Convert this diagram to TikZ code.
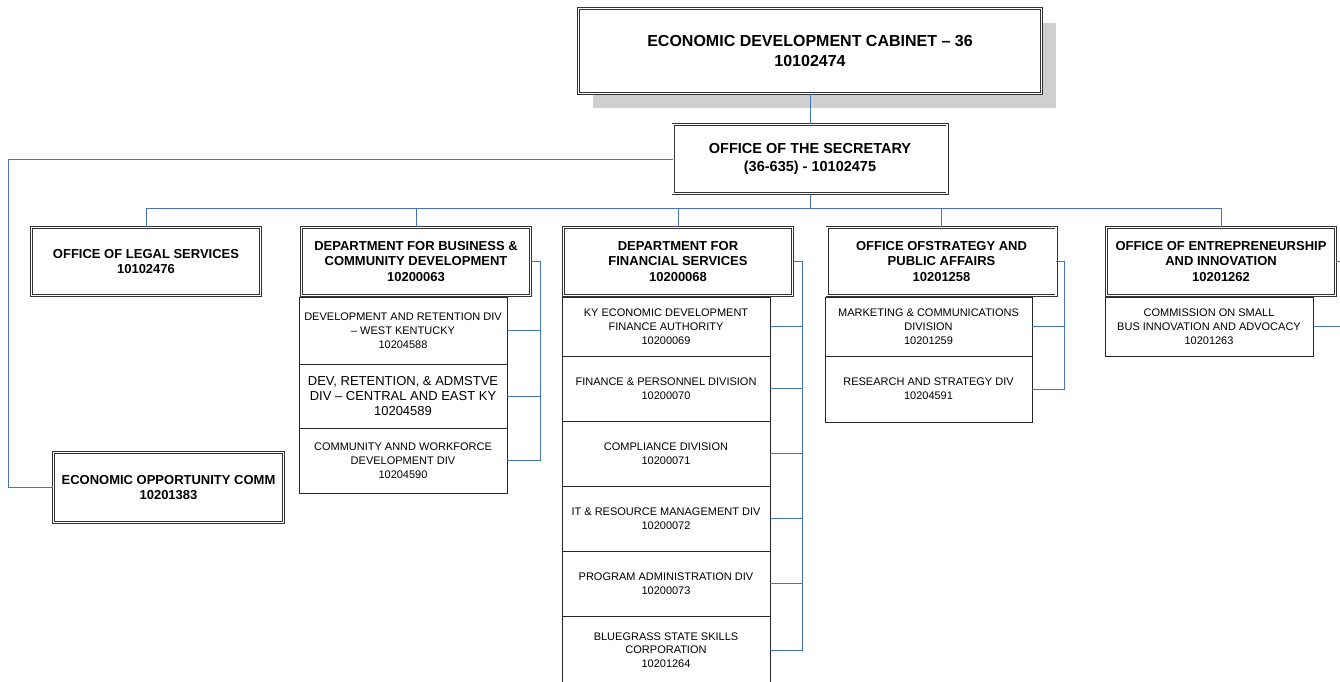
\documentclass[tikz,border=0pt]{standalone}
\usepackage{fontspec}
\setmainfont{Liberation Sans}
\usetikzlibrary{shadows}
\definecolor{linkblue}{RGB}{68,114,196}

\begin{document}
\begin{tikzpicture}[x=1pt,y=-1pt,
  unit/.style={draw=black!80, line width=0.8pt, double=white, double distance=1.4pt,
    fill=white, align=center, inner sep=0pt, minimum width=229pt, minimum height=68pt,
    font=\bfseries\fontsize{13}{15.5}\selectfont},
  sub/.style={draw=black!85, line width=0.7pt, fill=white, align=center, inner sep=0pt,
    minimum width=208pt, font=\fontsize{11}{13.8}\selectfont},
  link/.style={draw=linkblue, line width=0.8pt}]

\useasboundingbox (0,0) rectangle (1340,681);

% Cabinet
\node[unit, minimum width=463pt, minimum height=85pt, font=\bfseries\fontsize{16}{20}\selectfont,
  general shadow={fill=black!19, shadow xshift=14pt, shadow yshift=-14pt}]
  (cab) at (810,51) {ECONOMIC DEVELOPMENT CABINET -- 36\\10102474};

% Secretary
\node[unit, minimum width=274pt, minimum height=69pt, font=\bfseries\fontsize{14.5}{18}\selectfont]
  (sec) at (810,159) {OFFICE OF THE SECRETARY\\(36-635) - 10102475};

% Offices and departments
\node[unit] (legal) at (146,261.5) {OFFICE OF LEGAL SERVICES\\10102476};
\node[unit] (dbcd) at (416,261.5) {DEPARTMENT FOR BUSINESS \&\\COMMUNITY DEVELOPMENT\\10200063};
\node[unit] (dfs) at (678,261.5) {DEPARTMENT FOR\\FINANCIAL SERVICES\\10200068};
\node[unit] (ospa) at (941.5,261.5) {OFFICE OFSTRATEGY AND\\PUBLIC AFFAIRS\\10201258};
\node[unit] (oei) at (1221,261.5) {OFFICE OF ENTREPRENEURSHIP\\AND INNOVATION\\10201262};
\node[unit, minimum width=230pt, minimum height=70pt] (eoc) at (168.5,487.5)
  {ECONOMIC OPPORTUNITY COMM\\10201383};

% Business divisions
\node[sub, minimum height=67pt] (dbc1) at (403,330.5)
  {DEVELOPMENT AND RETENTION DIV\\-- WEST KENTUCKY\\10204588};
\node[sub, minimum height=64pt, font=\fontsize{13}{15}\selectfont] (dbc2) at (403,396)
  {DEV, RETENTION, \& ADMSTVE\\DIV -- CENTRAL AND EAST KY\\10204589};
\node[sub, minimum height=65pt] (dbc3) at (403,460.5)
  {COMMUNITY ANND WORKFORCE\\DEVELOPMENT DIV\\10204590};

% Financial divisions
\node[sub, minimum height=59pt] (dfs1) at (666,326.5)
  {KY ECONOMIC DEVELOPMENT\\FINANCE AUTHORITY\\10200069};
\node[sub, minimum height=65pt] (dfs2) at (666,388.5) {FINANCE \& PERSONNEL DIVISION\\10200070};
\node[sub, minimum height=65pt] (dfs3) at (666,453.5) {COMPLIANCE DIVISION\\10200071};
\node[sub, minimum height=65pt] (dfs4) at (666,518.5) {IT \& RESOURCE MANAGEMENT DIV\\10200072};
\node[sub, minimum height=65pt] (dfs5) at (666,583.5) {PROGRAM ADMINISTRATION DIV\\10200073};
\node[sub, minimum height=68pt] (dfs6) at (666,650)
  {BLUEGRASS STATE SKILLS\\CORPORATION\\10201264};

% Strategy divisions
\node[sub, minimum height=59pt, minimum width=207pt] (osp1) at (928.5,326.5)
  {MARKETING \& COMMUNICATIONS\\DIVISION\\10201259};
\node[sub, minimum height=66pt, minimum width=207pt] (osp2) at (928.5,389)
  {RESEARCH AND STRATEGY DIV\\10204591};

% Entrepreneurship division
\node[sub, minimum height=59pt] (oei1) at (1209,326.5)
  {COMMISSION ON SMALL\\BUS INNOVATION AND ADVOCACY\\10201263};

% Connectors
\coordinate (bus) at (0,208);
\coordinate (lrail) at (8,0);
\draw[link] (cab.south) -- (sec.north);
\draw[link] (sec.south) -- (sec.south |- bus);
\foreach \d in {legal,dbcd,dfs,ospa,oei}
  \draw[link] (sec.south |- bus) -| (\d.north);
\draw[link] (sec.west) -| (lrail |- eoc.west) -- (eoc.west);

% Side rails
\coordinate (rail-dbcd) at (540,0);
\coordinate (rail-dfs) at (802,0);
\coordinate (rail-ospa) at (1064,0);
\coordinate (rail-oei) at (1345,0);
\foreach \d/\last in {dbcd/dbc3, dfs/dfs6, ospa/osp2, oei/oei1}
  \draw[link] (\d.east) -| (rail-\d |- \last.east) -- (\last.east);
\foreach \d/\c in {dbcd/dbc1, dbcd/dbc2, dfs/dfs1, dfs/dfs2, dfs/dfs3, dfs/dfs4, dfs/dfs5, ospa/osp1}
  \draw[link] (\c.east) -- (\c.east -| rail-\d);

\end{tikzpicture}
\end{document}
